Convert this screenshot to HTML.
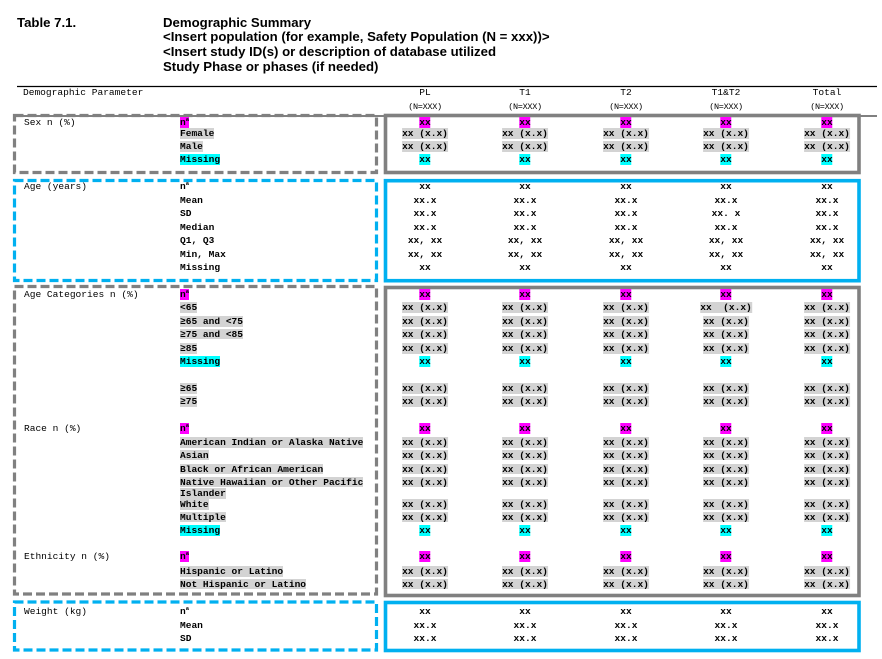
<!DOCTYPE html>
<html><head><meta charset="utf-8">
<style>
html,body{margin:0;padding:0;background:#fff}
body{width:882px;height:659px;position:relative;overflow:hidden}
svg{position:absolute;left:0;top:0}
.t{position:absolute;left:0;font-family:"Liberation Sans",Arial,sans-serif;font-weight:bold;font-size:13.2px;line-height:15px;height:15px;white-space:pre;color:#000}
.r{position:absolute;left:0;width:882px;height:10.6px}
.r span{position:absolute;top:0;height:10.6px;line-height:12.3px;white-space:pre;font-family:"Liberation Mono","DejaVu Sans Mono",monospace;font-size:9.55px;color:#000}
.r span.v{transform:translateX(-50%);font-weight:bold}
.r span.h{transform:translateX(-50%)}
.r span.nn{transform:translateX(-50%);font-size:8.5px;letter-spacing:-0.3px}
.r span.L{left:180px;font-weight:bold}
.G{left:24px}
.c1{left:425px}.c2{left:525px}.c3{left:626px}.c4{left:726px}.c5{left:827px}
.m{background:#ff00ff}
.y{background:#00ffff}
.g{background:#d3d3d3}
i{font-style:normal;font-size:5.5px;position:relative;top:-4px}
</style></head>
<body>
<svg width="882" height="659" viewBox="0 0 882 659">
<line x1="17" y1="86.5" x2="877" y2="86.5" stroke="#000" stroke-width="1.2"/>
<line x1="17" y1="116" x2="877" y2="116" stroke="#000" stroke-width="1"/>
<g fill="none">
<rect x="14.5" y="115.5" width="362" height="57" stroke="#808080" stroke-width="3.2" stroke-dasharray="9 4"/>
<rect x="385.5" y="115.5" width="473.5" height="57" stroke="#808080" stroke-width="3.6"/>
<rect x="14.5" y="180.5" width="362" height="100" stroke="#00b0f0" stroke-width="3.2" stroke-dasharray="9 4"/>
<rect x="385.5" y="180.7" width="473.5" height="100" stroke="#00b0f0" stroke-width="3.6"/>
<rect x="14.5" y="286.5" width="362" height="307.5" stroke="#808080" stroke-width="3.2" stroke-dasharray="9 4"/>
<rect x="385.5" y="287.5" width="473.5" height="308" stroke="#808080" stroke-width="3.6"/>
<rect x="14.5" y="602" width="362" height="48" stroke="#00b0f0" stroke-width="3.2" stroke-dasharray="9 4"/>
<rect x="385.5" y="602.5" width="473.5" height="48" stroke="#00b0f0" stroke-width="3.6"/>
</g>
</svg>

<div class="t" style="top:15.2px;left:17px">Table 7.1.</div>
<div class="t" style="top:15.2px;left:163px">Demographic Summary</div>
<div class="t" style="top:29.2px;left:163px">&lt;Insert population (for example, Safety Population (N = xxx))&gt;</div>
<div class="t" style="top:44.2px;left:163px">&lt;Insert study ID(s) or description of database utilized</div>
<div class="t" style="top:59.2px;left:163px">Study Phase or phases (if needed)</div>

<div class="r" style="top:87.4px"><span style="left:23px">Demographic Parameter</span><span class="h c1">PL</span><span class="h c2">T1</span><span class="h c3">T2</span><span class="h c4">T1&amp;T2</span><span class="h c5">Total</span></div>
<div class="r" style="top:100.6px"><span class="nn c1">(N=XXX)</span><span class="nn c2">(N=XXX)</span><span class="nn c3">(N=XXX)</span><span class="nn c4">(N=XXX)</span><span class="nn c5">(N=XXX)</span></div>

<!-- Sex -->
<div class="r" style="top:117.3px"><span class="G">Sex n (%)</span><span class="L m">n<i>a</i></span><span class="v m c1">xx</span><span class="v m c2">xx</span><span class="v m c3">xx</span><span class="v m c4">xx</span><span class="v m c5">xx</span></div>
<div class="r" style="top:128.4px"><span class="L g">Female</span><span class="v g c1">xx (x.x)</span><span class="v g c2">xx (x.x)</span><span class="v g c3">xx (x.x)</span><span class="v g c4">xx (x.x)</span><span class="v g c5">xx (x.x)</span></div>
<div class="r" style="top:141px"><span class="L g">Male</span><span class="v g c1">xx (x.x)</span><span class="v g c2">xx (x.x)</span><span class="v g c3">xx (x.x)</span><span class="v g c4">xx (x.x)</span><span class="v g c5">xx (x.x)</span></div>
<div class="r" style="top:154.2px"><span class="L y">Missing</span><span class="v y c1">xx</span><span class="v y c2">xx</span><span class="v y c3">xx</span><span class="v y c4">xx</span><span class="v y c5">xx</span></div>

<!-- Age -->
<div class="r" style="top:181.4px"><span class="G">Age (years)</span><span class="L">n<i>a</i></span><span class="v c1">xx</span><span class="v c2">xx</span><span class="v c3">xx</span><span class="v c4">xx</span><span class="v c5">xx</span></div>
<div class="r" style="top:195.1px"><span class="L">Mean</span><span class="v c1">xx.x</span><span class="v c2">xx.x</span><span class="v c3">xx.x</span><span class="v c4">xx.x</span><span class="v c5">xx.x</span></div>
<div class="r" style="top:208.4px"><span class="L">SD</span><span class="v c1">xx.x</span><span class="v c2">xx.x</span><span class="v c3">xx.x</span><span class="v c4">xx. x</span><span class="v c5">xx.x</span></div>
<div class="r" style="top:222.1px"><span class="L">Median</span><span class="v c1">xx.x</span><span class="v c2">xx.x</span><span class="v c3">xx.x</span><span class="v c4">xx.x</span><span class="v c5">xx.x</span></div>
<div class="r" style="top:235.4px"><span class="L">Q1, Q3</span><span class="v c1">xx, xx</span><span class="v c2">xx, xx</span><span class="v c3">xx, xx</span><span class="v c4">xx, xx</span><span class="v c5">xx, xx</span></div>
<div class="r" style="top:248.7px"><span class="L">Min, Max</span><span class="v c1">xx, xx</span><span class="v c2">xx, xx</span><span class="v c3">xx, xx</span><span class="v c4">xx, xx</span><span class="v c5">xx, xx</span></div>
<div class="r" style="top:262.2px"><span class="L">Missing</span><span class="v c1">xx</span><span class="v c2">xx</span><span class="v c3">xx</span><span class="v c4">xx</span><span class="v c5">xx</span></div>

<!-- Age categories -->
<div class="r" style="top:289.4px"><span class="G">Age Categories n (%)</span><span class="L m">n<i>a</i></span><span class="v m c1">xx</span><span class="v m c2">xx</span><span class="v m c3">xx</span><span class="v m c4">xx</span><span class="v m c5">xx</span></div>
<div class="r" style="top:302.2px"><span class="L g">&lt;65</span><span class="v g c1">xx (x.x)</span><span class="v g c2">xx (x.x)</span><span class="v g c3">xx (x.x)</span><span class="v g c4">xx  (x.x)</span><span class="v g c5">xx (x.x)</span></div>
<div class="r" style="top:316px"><span class="L g">≥65 and &lt;75</span><span class="v g c1">xx (x.x)</span><span class="v g c2">xx (x.x)</span><span class="v g c3">xx (x.x)</span><span class="v g c4">xx (x.x)</span><span class="v g c5">xx (x.x)</span></div>
<div class="r" style="top:328.9px"><span class="L g">≥75 and &lt;85</span><span class="v g c1">xx (x.x)</span><span class="v g c2">xx (x.x)</span><span class="v g c3">xx (x.x)</span><span class="v g c4">xx (x.x)</span><span class="v g c5">xx (x.x)</span></div>
<div class="r" style="top:343.2px"><span class="L g">≥85</span><span class="v g c1">xx (x.x)</span><span class="v g c2">xx (x.x)</span><span class="v g c3">xx (x.x)</span><span class="v g c4">xx (x.x)</span><span class="v g c5">xx (x.x)</span></div>
<div class="r" style="top:356.2px"><span class="L y">Missing</span><span class="v y c1">xx</span><span class="v y c2">xx</span><span class="v y c3">xx</span><span class="v y c4">xx</span><span class="v y c5">xx</span></div>
<div class="r" style="top:383.2px"><span class="L g">≥65</span><span class="v g c1">xx (x.x)</span><span class="v g c2">xx (x.x)</span><span class="v g c3">xx (x.x)</span><span class="v g c4">xx (x.x)</span><span class="v g c5">xx (x.x)</span></div>
<div class="r" style="top:396.2px"><span class="L g">≥75</span><span class="v g c1">xx (x.x)</span><span class="v g c2">xx (x.x)</span><span class="v g c3">xx (x.x)</span><span class="v g c4">xx (x.x)</span><span class="v g c5">xx (x.x)</span></div>

<!-- Race -->
<div class="r" style="top:423px"><span class="G">Race n (%)</span><span class="L m">n<i>a</i></span><span class="v m c1">xx</span><span class="v m c2">xx</span><span class="v m c3">xx</span><span class="v m c4">xx</span><span class="v m c5">xx</span></div>
<div class="r" style="top:437.2px"><span class="L g">American Indian or Alaska Native</span><span class="v g c1">xx (x.x)</span><span class="v g c2">xx (x.x)</span><span class="v g c3">xx (x.x)</span><span class="v g c4">xx (x.x)</span><span class="v g c5">xx (x.x)</span></div>
<div class="r" style="top:449.9px"><span class="L g">Asian</span><span class="v g c1">xx (x.x)</span><span class="v g c2">xx (x.x)</span><span class="v g c3">xx (x.x)</span><span class="v g c4">xx (x.x)</span><span class="v g c5">xx (x.x)</span></div>
<div class="r" style="top:463.9px"><span class="L g">Black or African American</span><span class="v g c1">xx (x.x)</span><span class="v g c2">xx (x.x)</span><span class="v g c3">xx (x.x)</span><span class="v g c4">xx (x.x)</span><span class="v g c5">xx (x.x)</span></div>
<div class="r" style="top:476.7px"><span class="L g">Native Hawaiian or Other Pacific</span><span class="v g c1">xx (x.x)</span><span class="v g c2">xx (x.x)</span><span class="v g c3">xx (x.x)</span><span class="v g c4">xx (x.x)</span><span class="v g c5">xx (x.x)</span></div>
<div class="r" style="top:488px"><span class="L g">Islander</span></div>
<div class="r" style="top:499px"><span class="L g">White</span><span class="v g c1">xx (x.x)</span><span class="v g c2">xx (x.x)</span><span class="v g c3">xx (x.x)</span><span class="v g c4">xx (x.x)</span><span class="v g c5">xx (x.x)</span></div>
<div class="r" style="top:511.7px"><span class="L g">Multiple</span><span class="v g c1">xx (x.x)</span><span class="v g c2">xx (x.x)</span><span class="v g c3">xx (x.x)</span><span class="v g c4">xx (x.x)</span><span class="v g c5">xx (x.x)</span></div>
<div class="r" style="top:525px"><span class="L y">Missing</span><span class="v y c1">xx</span><span class="v y c2">xx</span><span class="v y c3">xx</span><span class="v y c4">xx</span><span class="v y c5">xx</span></div>

<!-- Ethnicity -->
<div class="r" style="top:551.4px"><span class="G">Ethnicity n (%)</span><span class="L m">n<i>a</i></span><span class="v m c1">xx</span><span class="v m c2">xx</span><span class="v m c3">xx</span><span class="v m c4">xx</span><span class="v m c5">xx</span></div>
<div class="r" style="top:566px"><span class="L g">Hispanic or Latino</span><span class="v g c1">xx (x.x)</span><span class="v g c2">xx (x.x)</span><span class="v g c3">xx (x.x)</span><span class="v g c4">xx (x.x)</span><span class="v g c5">xx (x.x)</span></div>
<div class="r" style="top:578.7px"><span class="L g">Not Hispanic or Latino</span><span class="v g c1">xx (x.x)</span><span class="v g c2">xx (x.x)</span><span class="v g c3">xx (x.x)</span><span class="v g c4">xx (x.x)</span><span class="v g c5">xx (x.x)</span></div>

<!-- Weight -->
<div class="r" style="top:605.7px"><span class="G">Weight (kg)</span><span class="L">n<i>a</i></span><span class="v c1">xx</span><span class="v c2">xx</span><span class="v c3">xx</span><span class="v c4">xx</span><span class="v c5">xx</span></div>
<div class="r" style="top:619.7px"><span class="L">Mean</span><span class="v c1">xx.x</span><span class="v c2">xx.x</span><span class="v c3">xx.x</span><span class="v c4">xx.x</span><span class="v c5">xx.x</span></div>
<div class="r" style="top:633px"><span class="L">SD</span><span class="v c1">xx.x</span><span class="v c2">xx.x</span><span class="v c3">xx.x</span><span class="v c4">xx.x</span><span class="v c5">xx.x</span></div>
</body></html>
